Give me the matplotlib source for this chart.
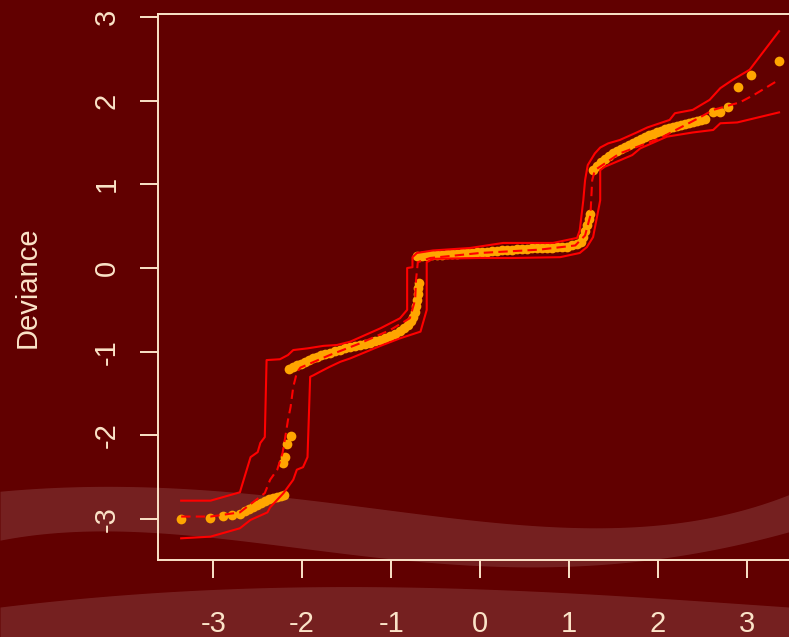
import numpy as np
import matplotlib
matplotlib.use("Agg")
import matplotlib.pyplot as plt

# deviance residuals vs normal quantiles
pts_x = [-3.36, -3.04, -2.89, -2.79, -2.70,
         -2.64, -2.60, -2.55, -2.51, -2.46, -2.42, -2.37, -2.33, -2.28, -2.24, -2.20,
         -2.21, -2.19, -2.17, -2.13,
         -2.146, -2.101, -2.056, -2.011, -1.966, -1.921, -1.876, -1.831, -1.787, -1.742,
         -1.685, -1.629, -1.573, -1.517, -1.461, -1.404, -1.348, -1.292, -1.236, -1.180,
         -1.124, -1.067, -1.011, -0.955, -0.899, -0.854, -0.809, -0.775, -0.753,
         -0.730, -0.719, -0.708, -0.697, -0.697, -0.685,
         -0.708, -0.652, -0.596, -0.539, -0.483, -0.427, -0.371, -0.315, -0.258, -0.202,
         -0.146, -0.090, -0.034, 0.022, 0.079, 0.135, 0.191, 0.247, 0.303, 0.360,
         0.416, 0.472, 0.528, 0.584, 0.640, 0.697, 0.753, 0.809, 0.865, 0.921,
         0.978, 1.034, 1.090, 1.135,
         1.157, 1.180, 1.202, 1.225, 1.236,
         1.270, 1.315, 1.360, 1.404, 1.449, 1.494, 1.539, 1.584, 1.629, 1.674,
         1.719, 1.764, 1.809, 1.854, 1.899, 1.944, 1.989, 2.034, 2.079, 2.124,
         2.169, 2.213, 2.258, 2.303, 2.348, 2.393, 2.438, 2.483, 2.528,
         2.618, 2.697, 2.787, 2.899, 3.045, 3.360]
pts_y = [-3.00, -2.99, -2.96, -2.95, -2.94,
         -2.90, -2.88, -2.86, -2.83, -2.81, -2.79, -2.76, -2.75, -2.74, -2.73, -2.71,
         -2.33, -2.26, -2.10, -2.01,
         -1.207, -1.183, -1.159, -1.147, -1.123, -1.099, -1.075, -1.063, -1.039, -1.027,
         -1.016, -0.992, -0.980, -0.956, -0.944, -0.932, -0.920, -0.908, -0.896, -0.872,
         -0.860, -0.836, -0.812, -0.789, -0.753, -0.717, -0.681, -0.633, -0.586,
         -0.526, -0.454, -0.382, -0.311, -0.239, -0.179,
         0.143, 0.143, 0.149, 0.155, 0.155, 0.161, 0.167, 0.167, 0.173, 0.179,
         0.179, 0.185, 0.191, 0.191, 0.197, 0.203, 0.209, 0.215, 0.215, 0.221,
         0.227, 0.227, 0.233, 0.239, 0.239, 0.239, 0.245, 0.245, 0.251, 0.251,
         0.257, 0.275, 0.287, 0.311,
         0.370, 0.442, 0.514, 0.585, 0.645,
         1.171, 1.219, 1.266, 1.302, 1.338, 1.374, 1.398, 1.422, 1.446, 1.470,
         1.493, 1.517, 1.541, 1.565, 1.589, 1.607, 1.625, 1.643, 1.661, 1.673,
         1.691, 1.703, 1.714, 1.726, 1.738, 1.750, 1.762, 1.774, 1.786,
         1.864, 1.864, 1.924, 2.162, 2.306, 2.473]

# simulated envelope, upper / lower
up_x = [-3.36, -3.03, -2.70, -2.58, -2.50, -2.47, -2.42, -2.40, -2.25, -2.16, -2.10,
        -1.94, -1.76, -1.61, -1.46, -1.12, -0.90, -0.82, -0.82, -0.76, -0.76, -0.71,
        -0.53, -0.11, 0.26, 0.82, 1.09, 1.12, 1.16, 1.18, 1.21, 1.29, 1.35, 1.44,
        1.57, 1.76, 1.88, 2.13, 2.19, 2.39, 2.58, 2.70, 2.84, 3.03, 3.36]
up_y = [-2.78, -2.78, -2.68, -2.26, -2.20, -2.09, -2.02, -1.10, -1.09, -1.04, -0.98,
        -0.96, -0.93, -0.92, -0.88, -0.72, -0.60, -0.50, 0.00, 0.01, 0.13, 0.18,
        0.21, 0.24, 0.30, 0.30, 0.36, 0.45, 0.81, 1.05, 1.23, 1.37, 1.44, 1.49,
        1.53, 1.62, 1.68, 1.77, 1.85, 1.89, 2.01, 2.15, 2.25, 2.37, 2.83]
lo_x = [-3.36, -3.03, -2.70, -2.58, -2.39, -2.36, -2.21, -2.10, -2.06, -1.99, -1.94,
        -1.91, -1.87, -1.80, -1.69, -1.57, -1.46, -1.12, -0.90, -0.67, -0.60, -0.60,
        -0.53, 0.00, 0.37, 0.90, 1.12, 1.20, 1.27, 1.35, 1.35, 1.40, 1.49, 1.71,
        1.80, 2.10, 2.39, 2.62, 2.70, 2.89, 3.36]
lo_y = [-3.23, -3.21, -3.11, -3.01, -2.92, -2.86, -2.69, -2.53, -2.41, -2.38, -2.26,
        -1.30, -1.28, -1.24, -1.18, -1.12, -1.08, -0.93, -0.84, -0.76, -0.50, 0.07,
        0.11, 0.12, 0.12, 0.13, 0.18, 0.25, 0.37, 0.81, 1.17, 1.21, 1.25, 1.35,
        1.43, 1.57, 1.62, 1.65, 1.73, 1.74, 1.86]
# median line
md_x = [-3.36, -3.03, -2.70, -2.42, -2.36, -2.28, -2.22, -2.19, -2.16, -2.13, -2.10,
        -2.06, -2.02, -1.69, -1.35, -1.01, -0.79, -0.73, -0.72, -0.70, -0.56, 0.00,
        0.67, 1.07, 1.18, 1.24, 1.26, 1.29, 1.57, 2.02, 2.47, 2.62, 2.92, 3.08, 3.36]
md_y = [-2.97, -2.97, -2.92, -2.69, -2.53, -2.41, -2.21, -2.02, -1.82, -1.66, -1.42,
        -1.25, -1.19, -1.04, -0.90, -0.74, -0.60, -0.38, -0.14, 0.07, 0.12, 0.18,
        0.22, 0.27, 0.39, 0.63, 1.05, 1.17, 1.37, 1.55, 1.80, 1.89, 1.98, 2.07, 2.25]

xticks = [-3, -2, -1, 0, 1, 2, 3]
yticks = [-3, -2, -1, 0, 1, 2, 3]

bg = "#610000"
fg = "#fbe3c8"

fig = plt.figure(figsize=(7.89, 6.37), dpi=100, facecolor=bg)

# decorative wavy bands behind the plot (figure pixel space)
deco = fig.add_axes([0, 0, 1, 1], zorder=0)
deco.set_xlim(0, 789)
deco.set_ylim(637, 0)
deco.axis("off")
xx = np.linspace(0, 789, 400)
def smooth(cx, cy):
    return np.polyval(np.polyfit(cx, cy, 4), xx)
b1_top = smooth([0, 150, 250, 400, 552, 653, 789], [491, 488, 493, 510, 530, 523, 495])
b1_bot = smooth([0, 150, 301, 502, 578, 653, 789], [540, 533, 547, 567, 567, 558, 532])
b2_top = smooth([0, 150, 250, 400, 552, 789], [607, 593, 588, 587, 592, 607])
deco.fill_between(xx, b1_top, b1_bot, color="white", alpha=0.13, lw=0)
deco.fill_between(xx, b2_top, 700, color="white", alpha=0.13, lw=0)

ax = fig.add_axes([0.2003, 0.1209, 0.8175, 0.857], zorder=1)
ax.patch.set_alpha(0)
ax.set_xlim(-3.62, 3.63)
ax.set_ylim(-3.489, 3.035)

ax.plot(pts_x, pts_y, "o", color="#ffa500", ms=7, mec="none", zorder=2)
ax.plot(up_x, up_y, color="#ff0000", lw=1.5, zorder=3)
ax.plot(lo_x, lo_y, color="#ff0000", lw=1.5, zorder=3)
ax.plot(md_x, md_y, color="#ff0000", lw=1.5, ls=(0, (4.5, 2.5)), zorder=3)

for s in ax.spines.values():
    s.set_color(fg)
    s.set_linewidth(1.4)
ax.set_xticks(xticks)
ax.set_yticks(yticks)
ax.set_xticklabels([str(v) for v in xticks])
ax.set_yticklabels([str(v) for v in yticks], rotation=90, va="center")
ax.tick_params(colors=fg, length=13, width=1.4, labelsize=21, labelcolor=fg)
ax.tick_params(axis="x", pad=23)
ax.tick_params(axis="y", pad=14)
for lab in ax.get_xticklabels() + ax.get_yticklabels():
    lab.set_family(["Liberation Sans", "DejaVu Sans"])

ax.set_ylabel("Deviance", color=fg, fontsize=21, family=["Liberation Sans", "DejaVu Sans"])
ax.yaxis.set_label_coords(-0.18, 0.5)

fig.savefig("out.png", dpi=100, facecolor=bg)
